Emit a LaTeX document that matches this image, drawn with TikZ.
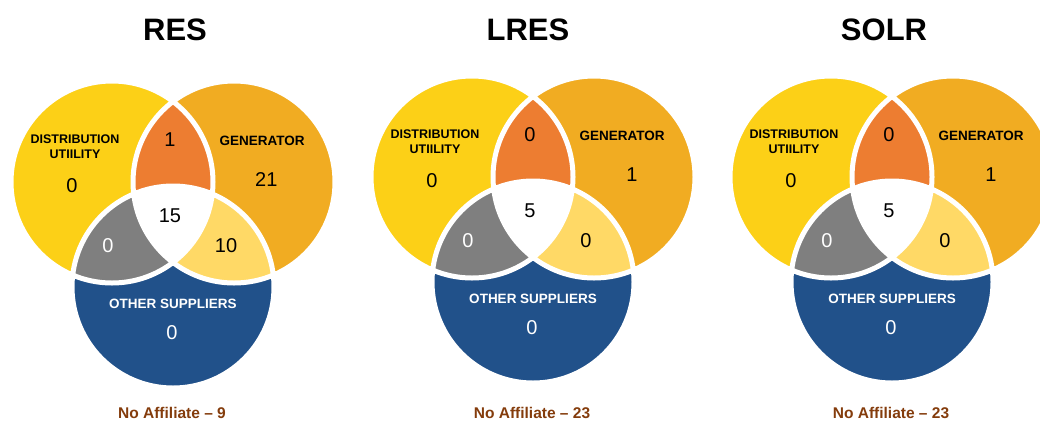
\documentclass[tikz,border=0pt]{standalone}
\usepackage{fontspec}
\setmainfont{Liberation Sans}
\usepackage{xcolor}
\usepackage{tikz}

\definecolor{duyellow}{RGB}{252,208,23}
\definecolor{genorange}{RGB}{241,172,34}
\definecolor{duggen}{RGB}{237,125,49}
\definecolor{dugos}{RGB}{127,127,127}
\definecolor{gengos}{RGB}{255,217,102}
\definecolor{osblue}{RGB}{33,81,138}
\definecolor{nobrown}{RGB}{132,60,12}

\tikzset{
  chart title/.style={font=\fontsize{31}{34}\selectfont\bfseries},
  set label/.style={font=\fontsize{13.5}{15}\selectfont\bfseries,align=center},
  du label/.style={font=\fontsize{12.5}{15}\selectfont\bfseries,align=center},
  count/.style={font=\fontsize{20}{22}\selectfont},
  free note/.style={font=\fontsize{15.5}{17}\selectfont\bfseries,text=nobrown},
  white ring/.style={draw=white,line width=5pt}
}

\begin{document}
\begin{tikzpicture}[x=1pt,y=-1pt]
  \useasboundingbox (0,0) rectangle (1040,421);
  \clip (0,0) rectangle (1040,421);
  \foreach \nm/\tx/\cx/\cy/\ttl/\ndu/\ndg/\ngen/\nds/\nall/\ngs/\nos/\nfree in
      {res/175/173/217/RES/0/1/21/0/15/10/0/9,
       lres/528/533/212/LRES/0/0/1/0/5/0/0/23,
       solr/884/892/212/SOLR/0/0/1/0/5/0/0/23}{
    \node [chart title] (\nm-title) at (\tx,30) {\ttl};
    \begin{scope}[shift={(\cx,\cy)}]
      \coordinate (\nm-du) at (-61,-35);
      \coordinate (\nm-gen) at (61,-35);
      \coordinate (\nm-os) at (0,70);
      % the three sets
      \fill [duyellow] (\nm-du) circle (101pt);
      \fill [genorange] (\nm-gen) circle (101pt);
      \fill [osblue] (\nm-os) circle (101pt);
      % overlaps
      \begin{scope}
        \clip (\nm-du) circle (101pt);
        \fill [duggen] (\nm-gen) circle (101pt);
        \fill [dugos] (\nm-os) circle (101pt);
      \end{scope}
      \begin{scope}
        \clip (\nm-gen) circle (101pt);
        \fill [gengos] (\nm-os) circle (101pt);
        \clip (\nm-du) circle (101pt);
        \fill [white] (\nm-os) circle (101pt);
      \end{scope}
      \draw [white ring] (\nm-du) circle (101pt) (\nm-gen) circle (101pt)
        (\nm-os) circle (101pt);
      % labels and counts
      \node [du label] (\nm-dulabel) at (-98,-70) {DISTRIBUTION\\UTIILITY};
      \node [count] (\nm-ndu) at (-101,-31) {\ndu};
      \node [set label] (\nm-genlabel) at (89,-76) {GENERATOR};
      \node [count,anchor=east] (\nm-ngen) at (108,-37) {\ngen};
      \node [count] (\nm-ndg) at (-3,-77) {\ndg};
      \node [count] (\nm-nall) at (-3,-1) {\nall};
      \node [count,text=white] (\nm-nds) at (-65,29) {\nds};
      \node [count] (\nm-ngs) at (53,29) {\ngs};
      \node [set label,text=white] (\nm-oslabel) at (0,87) {OTHER SUPPLIERS};
      \node [count,text=white] (\nm-nos) at (-1,116) {\nos};
    \end{scope}
    \node [free note] (\nm-free) at (\cx-1,413) {No Affiliate -- \nfree};
  }
\end{tikzpicture}
\end{document}
